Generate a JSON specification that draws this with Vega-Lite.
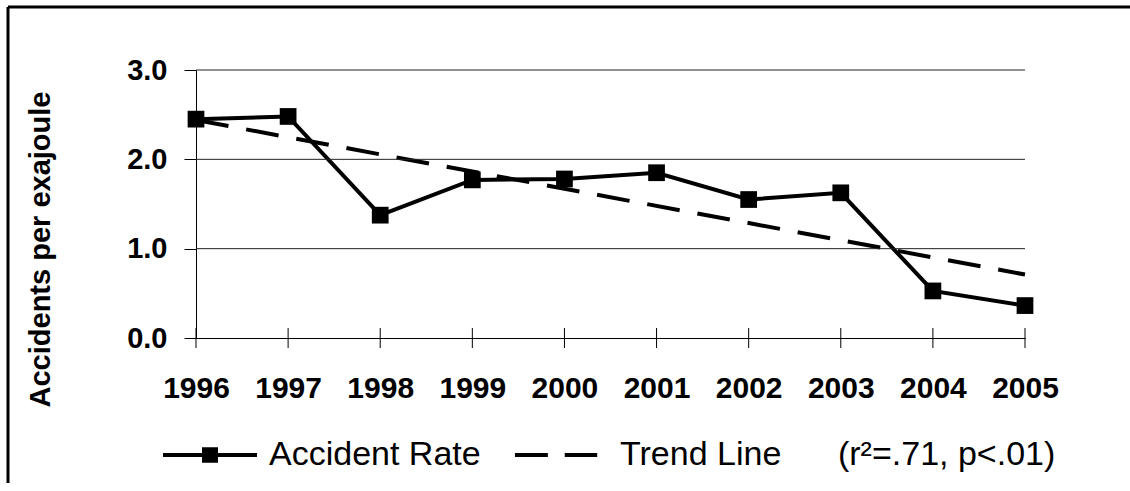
{
  "$schema": "https://vega.github.io/schema/vega-lite/v6.json",
  "width": 1122,
  "height": 476,
  "autosize": {"type": "none"},
  "padding": {"left": 8, "top": 7, "right": 0, "bottom": 0},
  "background": "white",
  "config": {
    "view": {"stroke": "black", "strokeWidth": 3, "strokeDash": [1122, 1598, 476, 0]},
    "font": "Liberation Sans"
  },
  "datasets": {
    "lines": [
      {"year": 1996, "value": 2.45, "series": "Accident Rate"},
      {"year": 1997, "value": 2.48, "series": "Accident Rate"},
      {"year": 1998, "value": 1.375, "series": "Accident Rate"},
      {"year": 1999, "value": 1.77, "series": "Accident Rate"},
      {"year": 2000, "value": 1.78, "series": "Accident Rate"},
      {"year": 2001, "value": 1.85, "series": "Accident Rate"},
      {"year": 2002, "value": 1.55, "series": "Accident Rate"},
      {"year": 2003, "value": 1.625, "series": "Accident Rate"},
      {"year": 2004, "value": 0.527, "series": "Accident Rate"},
      {"year": 2005, "value": 0.363, "series": "Accident Rate"},
      {"year": 1996, "value": 2.44, "series": "Trend Line"},
      {"year": 2005, "value": 0.71, "series": "Trend Line"}
    ],
    "grid": [{"value": 1}, {"value": 2}, {"value": 3}],
    "legend": [{"series": "Accident Rate"}, {"series": "Trend Line"}]
  },
  "layer": [
    {
      "data": {"name": "lines"},
      "transform": [{"filter": "datum.series === 'Accident Rate'"}],
      "mark": {"type": "line", "color": "black", "strokeWidth": 4},
      "encoding": {
        "x": {
          "field": "year",
          "type": "quantitative",
          "scale": {"domain": [1996, 2005], "range": [188, 1017], "nice": false, "zero": false},
          "axis": {
            "orient": "bottom",
            "offset": -145,
            "values": [1996, 1997, 1998, 1999, 2000, 2001, 2002, 2003, 2004, 2005],
            "format": "d",
            "ticks": false,
            "tickSize": 0,
            "labelPadding": 35,
            "labelFontSize": 30,
            "labelFontWeight": "bold",
            "labelColor": "black",
            "labelFlush": false,
            "labelOverlap": false,
            "domainColor": "black",
            "domainWidth": 1,
            "grid": false,
            "title": null
          }
        },
        "y": {
          "field": "value",
          "type": "quantitative",
          "scale": {"domain": [0, 3], "range": [331, 63], "nice": false, "zero": true},
          "axis": {
            "orient": "left",
            "offset": -188,
            "values": [0, 1, 2, 3],
            "format": ".1f",
            "tickSize": 12,
            "tickColor": "black",
            "labelPadding": 17,
            "labelFontSize": 29,
            "labelFontWeight": "bold",
            "labelColor": "black",
            "labelFlush": false,
            "labelOverlap": false,
            "domainColor": "black",
            "domainWidth": 1,
            "grid": false,
            "title": "Accidents per exajoule",
            "titleFontSize": 29,
            "titleFontWeight": "bold",
            "titleColor": "black",
            "titleX": -156,
            "titleY": 242,
            "titleAngle": 270,
            "titleAlign": "center",
            "titleBaseline": "middle"
          }
        }
      }
    },
    {
      "data": {"name": "lines"},
      "transform": [{"filter": "datum.series === 'Trend Line'"}],
      "mark": {"type": "line", "color": "black", "strokeWidth": 4, "strokeDash": [33, 18]},
      "encoding": {
        "x": {"field": "year", "type": "quantitative"},
        "y": {"field": "value", "type": "quantitative"}
      }
    },
    {
      "data": {"name": "grid"},
      "mark": {"type": "rule", "color": "#222222", "strokeWidth": 1},
      "encoding": {
        "y": {"field": "value", "type": "quantitative"},
        "x": {"datum": 1996, "type": "quantitative"},
        "x2": {"datum": 2005}
      }
    },
    {
      "data": {"name": "lines"},
      "transform": [{"filter": "datum.series === 'Accident Rate'"}],
      "mark": {"type": "tick", "orient": "vertical", "size": 20, "thickness": 1, "color": "black", "opacity": 1},
      "encoding": {
        "x": {"field": "year", "type": "quantitative"},
        "y": {"datum": 0, "type": "quantitative"}
      }
    },
    {
      "data": {"name": "lines"},
      "transform": [{"filter": "datum.series === 'Accident Rate'"}],
      "mark": {"type": "square", "size": 280, "color": "black", "filled": true, "opacity": 1},
      "encoding": {
        "x": {"field": "year", "type": "quantitative"},
        "y": {"field": "value", "type": "quantitative"}
      }
    },
    {
      "data": {"name": "legend"},
      "mark": {"type": "point", "filled": false, "color": "black", "strokeWidth": 4, "clip": true},
      "encoding": {
        "x": {"datum": 1996, "type": "quantitative"},
        "y": {"datum": -20, "type": "quantitative"},
        "shape": {
          "field": "series",
          "type": "nominal",
          "scale": {
            "domain": ["Accident Rate", "Trend Line"],
            "range": [
              "M-1,0H1M-0.17,-0.12H0.17M-0.17,-0.06H0.17M-0.17,0.06H0.17M-0.17,0.12H0.17",
              "M-0.98,0H-0.28M0.08,0H0.77"
            ]
          },
          "legend": {
            "orient": "none",
            "legendX": 153,
            "legendY": 399,
            "direction": "horizontal",
            "title": null,
            "padding": 0,
            "symbolSize": 8836,
            "symbolStrokeWidth": 4,
            "symbolStrokeColor": "black",
            "symbolOpacity": 1,
            "labelFontSize": 34,
            "labelFont": "Liberation Sans",
            "labelColor": "black",
            "labelOffset": 10,
            "labelLimit": 2000,
            "columnPadding": 25,
            "labelExpr": "datum.value === 'Trend Line' ? 'Trend Line\u00a0\u00a0\u00a0\u00a0\u00a0\u00a0(r²=.71, p<.01)' : datum.label"
          }
        }
      }
    }
  ]
}
